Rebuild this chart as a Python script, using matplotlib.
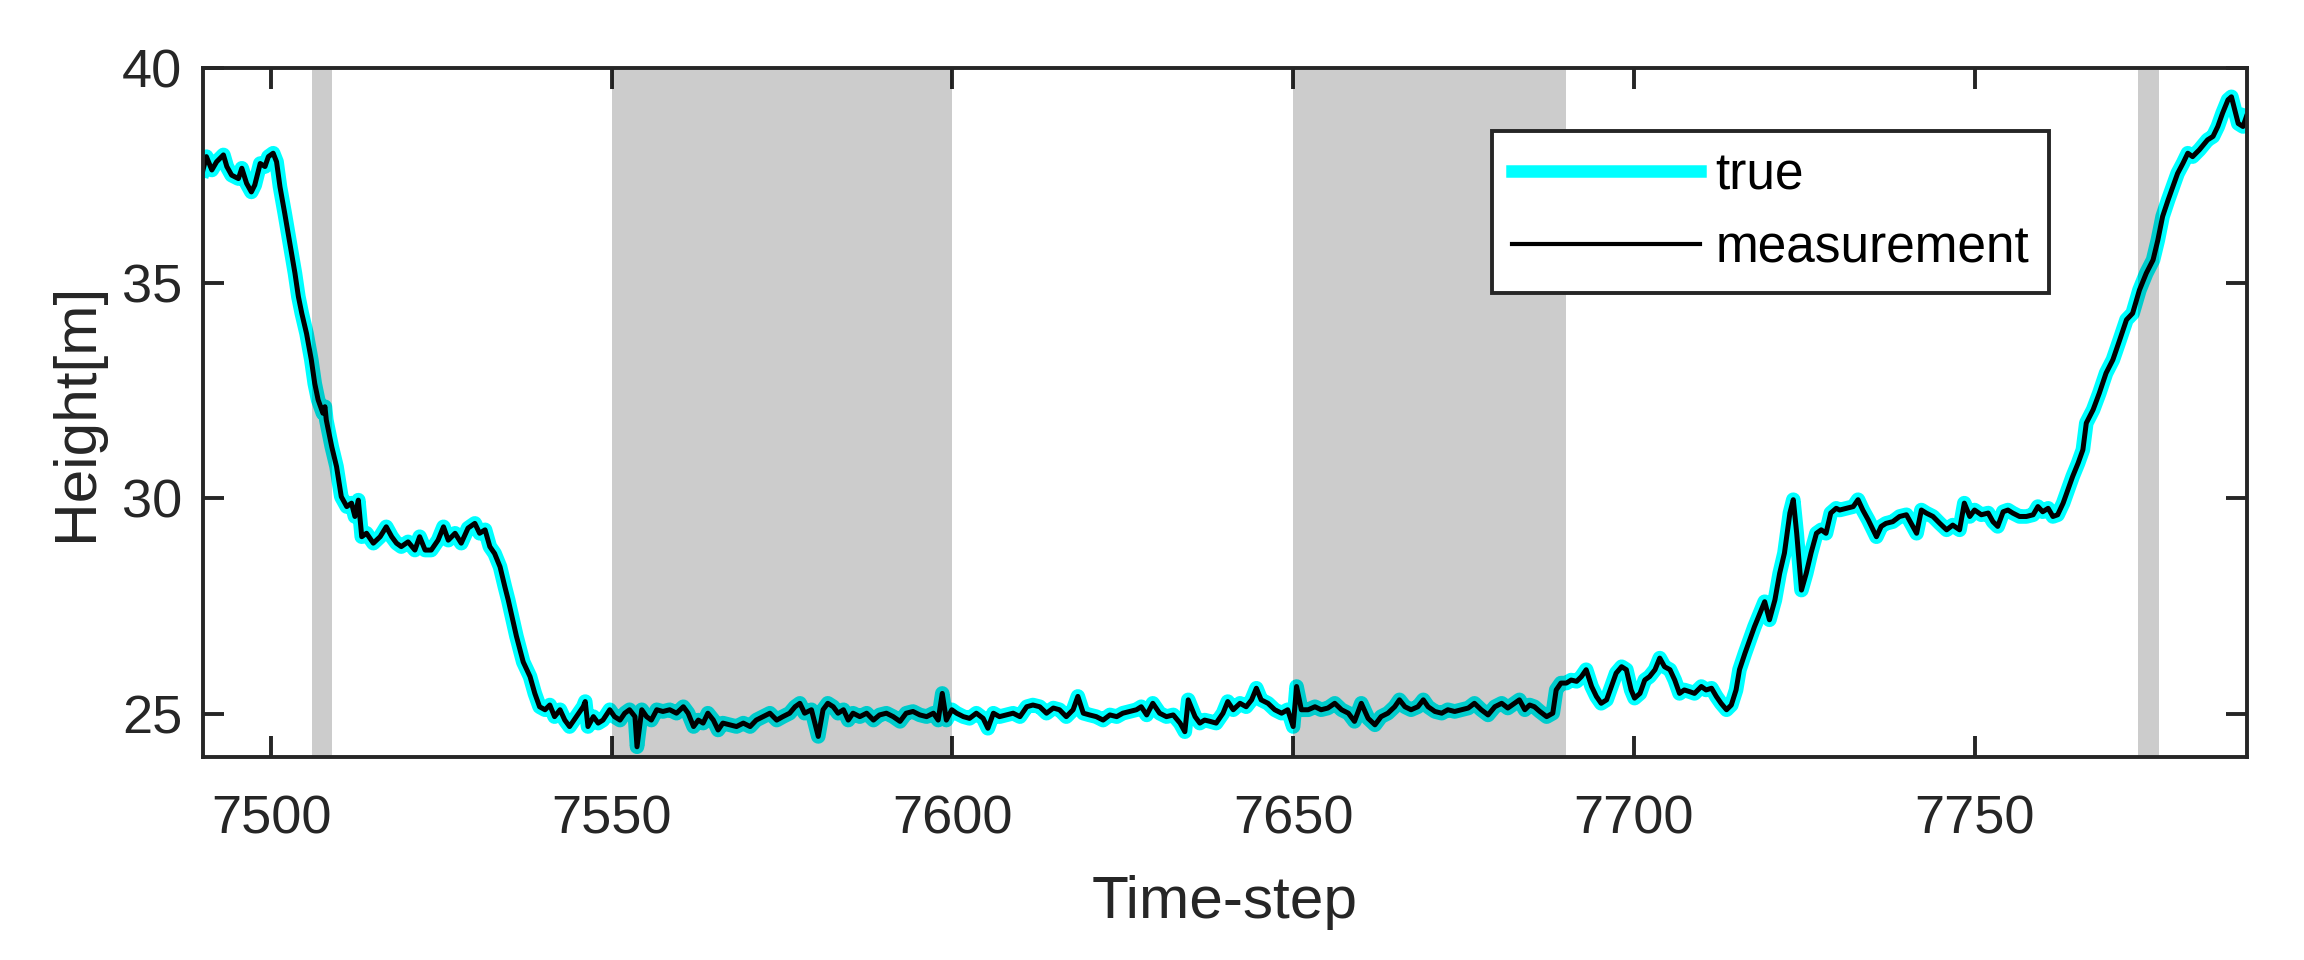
import matplotlib
matplotlib.use("Agg")

import matplotlib.pyplot as plt

# values (time-step, height in m)
time_step = [
    7490.0, 7490.5, 7491.3, 7492.0, 7493.0, 7493.5, 7494.2, 7495.2, 7495.7, 7496.4,
    7497.1, 7497.6, 7498.4, 7499.1, 7499.6, 7500.3, 7500.8, 7501.3, 7502.0, 7502.5,
    7503.0, 7503.5, 7504.0, 7504.5, 7505.2, 7505.9, 7506.4, 7506.9, 7507.6, 7507.9,
    7508.1, 7508.9, 7509.6, 7510.3, 7511.1, 7511.8, 7512.3, 7512.8, 7513.3, 7514.0,
    7515.0, 7516.0, 7516.9, 7517.7, 7518.4, 7519.1, 7520.1, 7521.1, 7521.8, 7522.6,
    7523.5, 7524.5, 7525.3, 7526.0, 7527.0, 7527.9, 7528.9, 7529.9, 7530.6, 7531.4,
    7532.1, 7532.8, 7533.6, 7534.3, 7534.8, 7536.0, 7537.0, 7538.0, 7538.7, 7539.4,
    7540.2, 7540.9, 7541.6, 7542.4, 7543.1, 7543.8, 7544.8, 7545.8, 7546.1, 7546.5,
    7547.3, 7548.0, 7548.7, 7549.7, 7550.4, 7551.2, 7551.9, 7552.6, 7553.4, 7553.7,
    7554.4, 7555.1, 7555.8, 7556.6, 7557.5, 7558.5, 7559.5, 7560.5, 7561.2, 7562.0,
    7562.7, 7563.4, 7564.1, 7564.9, 7565.6, 7566.3, 7567.3, 7568.3, 7569.3, 7570.3,
    7571.2, 7572.2, 7573.2, 7574.2, 7575.1, 7576.1, 7576.9, 7577.6, 7578.3, 7579.3,
    7580.3, 7581.0, 7581.7, 7582.5, 7583.2, 7584.0, 7584.7, 7585.4, 7586.4, 7587.4,
    7588.4, 7589.3, 7590.3, 7591.3, 7592.3, 7593.2, 7594.2, 7595.2, 7596.2, 7597.2,
    7597.9, 7598.5, 7599.1, 7599.9, 7600.6, 7601.6, 7602.5, 7603.5, 7604.5, 7605.2,
    7606.0, 7606.9, 7607.9, 7608.9, 7609.9, 7610.9, 7611.8, 7612.8, 7613.8, 7614.8,
    7615.7, 7616.7, 7617.7, 7618.4, 7619.2, 7620.1, 7621.1, 7622.1, 7623.1, 7624.1,
    7625.0, 7626.0, 7627.0, 7627.7, 7628.5, 7629.4, 7630.4, 7631.4, 7632.4, 7633.4,
    7634.1, 7634.6, 7635.6, 7636.3, 7637.0, 7637.8, 7638.7, 7639.7, 7640.4, 7641.2,
    7642.2, 7643.1, 7643.9, 7644.6, 7645.3, 7646.3, 7647.3, 7648.3, 7649.2, 7650.0,
    7650.5, 7651.2, 7652.2, 7653.2, 7654.1, 7655.1, 7656.1, 7657.1, 7658.1, 7659.0,
    7660.0, 7661.0, 7662.0, 7662.9, 7663.9, 7664.9, 7665.6, 7666.4, 7667.3, 7668.3,
    7669.1, 7669.8, 7670.8, 7671.8, 7672.7, 7673.7, 7674.7, 7675.7, 7676.6, 7677.6,
    7678.6, 7679.6, 7680.6, 7681.5, 7682.5, 7683.2, 7684.0, 7684.7, 7685.4, 7686.2,
    7687.2, 7688.1, 7688.6, 7689.3, 7690.1, 7690.8, 7691.6, 7692.3, 7693.0, 7693.8,
    7694.5, 7695.2, 7696.0, 7696.7, 7697.4, 7698.2, 7698.9, 7699.6, 7700.1, 7700.9,
    7701.6, 7702.3, 7703.1, 7703.8, 7704.5, 7705.3, 7706.0, 7706.7, 7707.4, 7708.2,
    7708.9, 7709.9, 7710.6, 7711.4, 7712.1, 7712.8, 7713.6, 7714.3, 7715.0, 7715.5,
    7716.3, 7717.0, 7717.7, 7718.5, 7719.2, 7719.9, 7720.7, 7721.4, 7722.1, 7722.9,
    7723.4, 7723.9, 7724.6, 7725.3, 7726.0, 7726.8, 7727.5, 7728.2, 7728.9, 7729.7,
    7730.2, 7731.2, 7732.2, 7732.9, 7733.6, 7734.4, 7735.1, 7735.6, 7736.3, 7737.0,
    7738.0, 7739.0, 7740.0, 7740.7, 7741.5, 7742.2, 7742.9, 7743.9, 7744.9, 7745.9,
    7746.8, 7747.8, 7748.5, 7749.3, 7750.0, 7751.0, 7752.0, 7752.7, 7753.4, 7754.2,
    7754.9, 7755.6, 7756.6, 7757.6, 7758.6, 7759.3, 7760.0, 7760.8, 7761.5, 7762.2,
    7763.0, 7763.7, 7764.4, 7765.2, 7765.9, 7766.4, 7767.4, 7768.3, 7769.3, 7770.3,
    7771.3, 7772.3, 7773.2, 7774.2, 7775.2, 7776.2, 7776.9, 7777.6, 7778.4, 7779.1,
    7779.8, 7780.6, 7781.3, 7782.0, 7783.0, 7784.2, 7785.0, 7785.7, 7786.4, 7787.2,
    7787.7, 7788.2, 7788.7, 7789.4, 7789.9,
]
height = [
    37.63, 37.94, 37.63, 37.82, 37.98, 37.71, 37.51, 37.43, 37.67, 37.32,
    37.12, 37.28, 37.78, 37.71, 37.94, 38.02, 37.82, 37.24, 36.62, 36.16,
    35.69, 35.23, 34.69, 34.30, 33.83, 33.22, 32.67, 32.29, 31.98, 32.13,
    31.82, 31.20, 30.74, 30.04, 29.81, 29.89, 29.58, 29.96, 29.11, 29.19,
    28.96, 29.11, 29.34, 29.11, 28.96, 28.88, 28.99, 28.80, 29.11, 28.80,
    28.80, 29.03, 29.34, 29.03, 29.19, 28.96, 29.31, 29.42, 29.19, 29.27,
    28.88, 28.72, 28.41, 27.95, 27.64, 26.80, 26.20, 25.86, 25.47, 25.16,
    25.09, 25.20, 24.93, 25.09, 24.85, 24.70, 24.93, 25.16, 25.28, 24.70,
    24.93, 24.78, 24.85, 25.09, 24.93, 24.85, 25.01, 25.09, 24.93, 24.23,
    25.09, 24.93, 24.85, 25.09, 25.05, 25.09, 25.01, 25.16, 25.01, 24.70,
    24.85, 24.78, 25.01, 24.85, 24.62, 24.78, 24.74, 24.70, 24.78, 24.70,
    24.85, 24.93, 25.01, 24.85, 24.93, 25.01, 25.16, 25.24, 25.01, 25.09,
    24.47, 25.09, 25.24, 25.16, 25.01, 25.09, 24.85, 25.01, 24.93, 25.01,
    24.85, 24.97, 25.01, 24.93, 24.82, 25.01, 25.05, 24.97, 24.93, 25.01,
    24.85, 25.47, 24.85, 25.09, 25.01, 24.93, 24.89, 25.01, 24.89, 24.66,
    25.01, 24.93, 24.97, 25.01, 24.93, 25.16, 25.20, 25.16, 25.01, 25.13,
    25.09, 24.93, 25.09, 25.40, 25.01, 24.97, 24.93, 24.85, 24.97, 24.93,
    25.01, 25.05, 25.09, 25.16, 24.97, 25.24, 25.01, 24.93, 24.97, 24.78,
    24.58, 25.32, 24.93, 24.78, 24.85, 24.82, 24.78, 25.01, 25.28, 25.09,
    25.24, 25.16, 25.32, 25.59, 25.32, 25.24, 25.09, 25.01, 25.09, 24.70,
    25.63, 25.09, 25.09, 25.16, 25.09, 25.13, 25.24, 25.09, 25.01, 24.82,
    25.24, 24.89, 24.74, 24.93, 25.01, 25.16, 25.32, 25.16, 25.09, 25.16,
    25.32, 25.16, 25.05, 25.01, 25.09, 25.05, 25.09, 25.13, 25.24, 25.09,
    24.97, 25.16, 25.24, 25.13, 25.24, 25.32, 25.09, 25.20, 25.16, 25.05,
    24.93, 25.01, 25.55, 25.71, 25.71, 25.78, 25.75, 25.86, 26.02, 25.63,
    25.40, 25.24, 25.32, 25.63, 25.94, 26.09, 26.02, 25.55, 25.36, 25.47,
    25.78, 25.86, 26.02, 26.29, 26.09, 26.02, 25.78, 25.47, 25.55, 25.51,
    25.47, 25.63, 25.55, 25.59, 25.40, 25.24, 25.09, 25.20, 25.55, 26.02,
    26.40, 26.71, 27.02, 27.33, 27.60, 27.18, 27.64, 28.26, 28.73, 29.66,
    29.97, 29.19, 27.87, 28.26, 28.73, 29.19, 29.27, 29.19, 29.66, 29.77,
    29.73, 29.77, 29.81, 29.97, 29.73, 29.50, 29.27, 29.11, 29.35, 29.42,
    29.46, 29.58, 29.62, 29.42, 29.19, 29.73, 29.66, 29.58, 29.42, 29.27,
    29.38, 29.27, 29.89, 29.58, 29.73, 29.62, 29.66, 29.46, 29.35, 29.69,
    29.73, 29.66, 29.58, 29.58, 29.62, 29.81, 29.69, 29.77, 29.58, 29.62,
    29.89, 30.20, 30.51, 30.82, 31.13, 31.75, 32.06, 32.44, 32.91, 33.22,
    33.68, 34.15, 34.30, 34.84, 35.23, 35.54, 36.00, 36.55, 36.93, 37.24,
    37.55, 37.79, 38.02, 37.94, 38.10, 38.33, 38.41, 38.64, 38.95, 39.26,
    39.33, 39.02, 38.71, 38.64, 38.87,
]

# grey bands
shade_start = [7506, 7550, 7650, 7774]
shade_end = [7509, 7600, 7690, 7777]

x_ticks = [7500, 7550, 7600, 7650, 7700, 7750]
y_ticks = [25, 30, 35, 40]

axis_grey = "#262626"

plt.rcParams["font.family"] = ["Liberation Sans", "DejaVu Sans"]

fig = plt.figure(figsize=(23.04, 9.6), dpi=100)
ax = fig.add_axes([0.0881, 0.2118, 0.8872, 0.7174])

ax.plot(time_step, height, color="#00ffff", linewidth=10.5, label="true",
        solid_joinstyle="round", zorder=2)
ax.plot(time_step, height, color="black", linewidth=3.6, label="measurement",
        zorder=3)

for s, e in zip(shade_start, shade_end):
    ax.axvspan(s, e, color="black", alpha=0.2, linewidth=0, zorder=4)

ax.set_xlim(7490, 7790)
ax.set_ylim(24, 40)
ax.set_xticks(x_ticks)
ax.set_yticks(y_ticks)

for sp in ax.spines.values():
    sp.set_color(axis_grey)
    sp.set_linewidth(2.8)
    sp.set_zorder(6)

ax.tick_params(axis="both", direction="in", length=15, width=2.8,
               color=axis_grey, labelcolor=axis_grey, labelsize=39,
               top=True, right=True)
ax.tick_params(axis="x", pad=27)
ax.tick_params(axis="y", pad=15)

ax.set_xlabel("Time-step", fontsize=43.5, color=axis_grey, labelpad=22)
ax.set_ylabel("Height[m]", fontsize=43.5, color=axis_grey, labelpad=13)

leg = ax.legend(loc="upper left", bbox_to_anchor=(0.6306, 0.9085),
                borderaxespad=0, fontsize=37, frameon=True, fancybox=False,
                framealpha=1, edgecolor=axis_grey, handlelength=3.66,
                handletextpad=0.3, borderpad=0.39, labelspacing=0.47)
leg.get_frame().set_linewidth(2.8)
leg.set_zorder(7)
# legend keys are drawn a little thinner than the plotted lines
leg.get_lines()[0].set_linewidth(9)
leg.get_lines()[1].set_linewidth(3)

fig.savefig("out.png", dpi=100)
